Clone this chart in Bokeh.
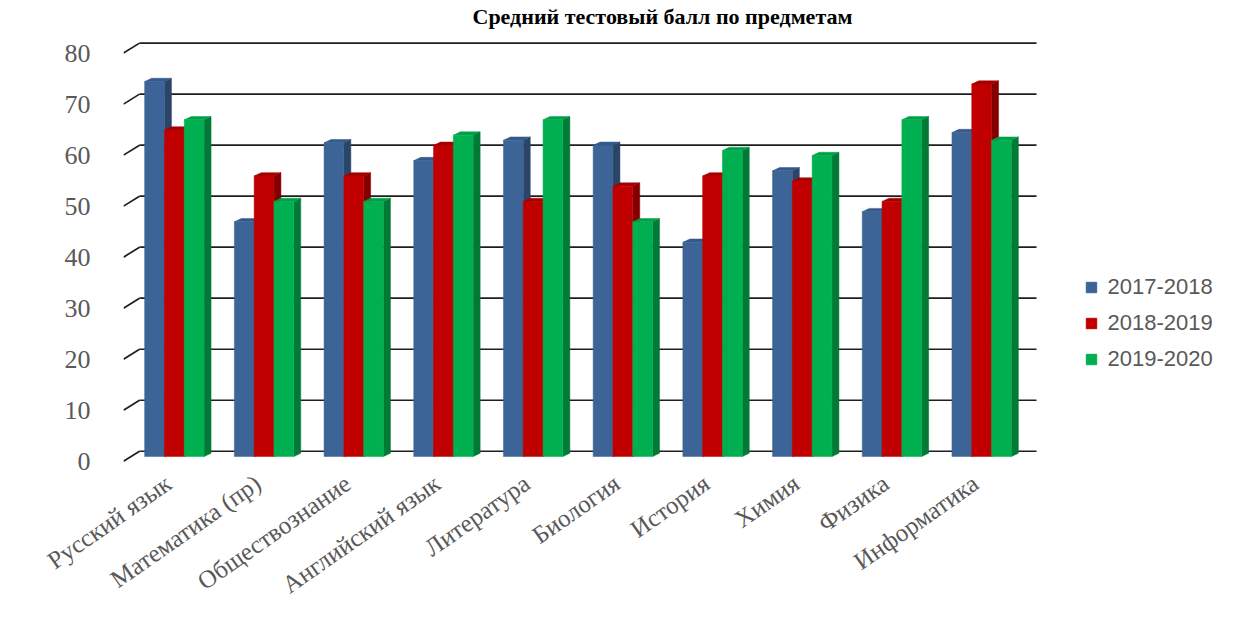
from bokeh.plotting import figure
from bokeh.models import Range1d, FixedTicker, Legend, LegendItem, ColumnDataSource
from bokeh.embed import file_html
from bokeh.resources import INLINE

# ---------------- data ----------------
categories = ["Русский язык", "Математика (пр)", "Обществознание", "Английский язык",
              "Литература", "Биология", "История", "Химия", "Физика", "Информатика"]
years = ["2017-2018", "2018-2019", "2019-2020"]
s2017 = [73.5, 46, 61.5, 58, 62, 61, 42, 56, 48, 63.5]
s2018 = [64, 55, 55, 61, 50, 53, 55, 54, 50, 73]
s2019 = [66, 50, 50, 63, 66, 46, 60, 59, 66, 62]
y_ticks = [0, 10, 20, 30, 40, 50, 60, 70, 80]
title_text = "Средний тестовый балл по предметам"

series = [s2017, s2018, s2019]
front_colors = ["#3C6496", "#C00000", "#00B050"]
side_colors = ["#2A4568", "#840000", "#007A36"]
top_colors = ["#35598A", "#A50000", "#00A047"]

# ---------------- geometry (pixels -> data units) ----------------
W, H = 1238, 612
BORDER_L, BORDER_R, BORDER_T, BORDER_B = 123, 0, 28, 144
frame_w = W - BORDER_L - BORDER_R
frame_h = H - BORDER_T - BORDER_B
PX_X = 89.7      # pixels per category
PX_Y = 5.125     # pixels per value unit
x0 = -0.5
y0 = -5.3 / PX_Y
x_range = Range1d(x0, x0 + frame_w / PX_X)
y_range = Range1d(y0, y0 + frame_h / PX_Y)

WDX, WDY = 16 / PX_X, 10 / PX_Y      # back wall offset
BDX, BDY = 6 / PX_X, 4.7 / PX_Y      # bar plane offset
BW = 19.8 / PX_X                     # bar width
DDX, DDY = 7 / PX_X, 3.3 / PX_Y      # bar depth

p = figure(width=W, height=H, x_range=x_range, y_range=y_range,
           output_backend="svg", toolbar_location=None,
           min_border_left=BORDER_L, min_border_right=BORDER_R,
           min_border_top=BORDER_T, min_border_bottom=BORDER_B,
           background_fill_color="white", border_fill_color="white")
p.outline_line_color = None
p.grid.visible = False

p.title.text = title_text
p.title.align = "left"
p.title.offset = 349
p.title.text_font = "Liberation Serif"
p.title.text_font_style = "bold"
p.title.text_font_size = "22px"
p.title.text_color = "black"
p.title.standoff = 0

# back-wall gridlines and diagonal ticks
n = len(categories)
p.segment(x0=[x0 + WDX] * len(y_ticks), y0=[t + WDY for t in y_ticks],
          x1=[x0 + n + WDX] * len(y_ticks), y1=[t + WDY for t in y_ticks],
          line_color="#1E1E1E", line_width=1.7)
p.segment(x0=[x0] * len(y_ticks), y0=y_ticks,
          x1=[x0 + WDX] * len(y_ticks), y1=[t + WDY for t in y_ticks],
          line_color="#1E1E1E", line_width=1.7)

# 3D-looking bars
leg_renderers = []
for k, vals in enumerate(series):
    xl = [i - 1.5 * BW + k * BW + BDX for i in range(n)]
    xr = [a + BW for a in xl]
    yb = [BDY] * n
    yt = [BDY + v for v in vals]
    side_xs = [[r, r + DDX, r + DDX, r] for r in xr]
    side_ys = [[b, b + DDY, t + DDY, t] for b, t in zip(yb, yt)]
    top_xs = [[l, l + DDX, r + DDX, r] for l, r in zip(xl, xr)]
    top_ys = [[t, t + DDY, t + DDY, t] for t in yt]
    p.patches(xs=side_xs, ys=side_ys, fill_color=side_colors[k], line_color=side_colors[k], line_width=0.5)
    p.patches(xs=top_xs, ys=top_ys, fill_color=top_colors[k], line_color=top_colors[k], line_width=0.5)
    # legend key marks (sit inside the front faces, hidden by them)
    leg_renderers.append(p.scatter(x=[(a + b) / 2 for a, b in zip(xl, xr)],
                                   y=[BDY + v / 2 for v in vals], marker="square", size=10,
                                   fill_color=front_colors[k], line_color=front_colors[k]))
    src = ColumnDataSource(dict(left=xl, right=xr, bottom=yb, top=yt, cat=categories))
    p.quad(left="left", right="right", bottom="bottom", top="top", source=src,
           fill_color=front_colors[k], line_color=front_colors[k], line_width=0.5)

# axes
p.yaxis.ticker = FixedTicker(ticks=y_ticks)
p.yaxis.axis_line_color = None
p.yaxis.major_tick_line_color = None
p.yaxis.minor_tick_line_color = None
p.yaxis.major_tick_out = 0
p.yaxis.major_label_standoff = 33
p.yaxis.major_label_text_font = "Liberation Serif"
p.yaxis.major_label_text_font_size = "26px"
p.yaxis.major_label_text_color = "#595959"

p.xaxis.ticker = FixedTicker(ticks=list(range(n)))
p.xaxis.major_label_overrides = {i: c for i, c in enumerate(categories)}
p.xaxis.axis_line_color = None
p.xaxis.major_tick_line_color = None
p.xaxis.minor_tick_line_color = None
p.xaxis.major_tick_out = 0
p.xaxis.major_label_standoff = 14
p.xaxis.major_label_orientation = 0.61
p.xaxis.major_label_text_font = "Liberation Serif"
p.xaxis.major_label_text_font_size = "25px"
p.xaxis.major_label_text_color = "#595959"

# legend
legend = Legend(items=[LegendItem(label=yname, renderers=[r]) for yname, r in zip(years, leg_renderers)],
                location=(954.5, 94.5), orientation="vertical",
                border_line_color=None, background_fill_alpha=0,
                padding=0, margin=0, spacing=10,
                glyph_width=26, glyph_height=26, label_height=26, label_standoff=4,
                label_text_font="Liberation Sans", label_text_font_size="22px",
                label_text_color="#595959")
p.add_layout(legend)

open("out.html", "w").write(file_html(p, INLINE))
